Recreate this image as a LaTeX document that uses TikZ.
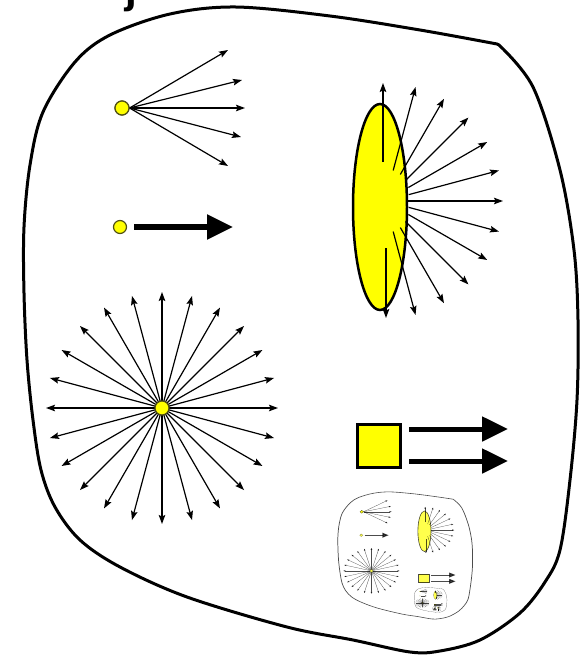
\documentclass[tikz,border=0pt]{standalone}
\usepackage{fontspec}
\usetikzlibrary{arrows.meta}
\definecolor{yel}{RGB}{255,255,0}
\definecolor{dotedge}{RGB}{80,80,20}
\newfontfamily\titlefont{DejaVu Sans}
\tikzset{
  blob/.style={line width=3pt, line join=round},
  thinarrow/.style={line width=1.2pt, -{Stealth[length=9pt,width=6.5pt,inset=1.5pt]}},
  fatarrow/.style={line width=5pt, -{Triangle[length=26pt,width=24pt]}},
  dotc/.style={circle, fill=yel, draw=dotedge, line width=1.2pt, inner sep=0pt, minimum size=14pt},
  yelshape/.style={fill=yel, draw=black},
  insetlook/.style={opacity=0.7},
}
\newcommand\myscene[1]{%
  % outer outline
  \draw[blob] plot[smooth, tension=0.55] coordinates {(499,45) (533,87) (560,170) (574,250) (578,320) (577,400) (570,480) (560,550) (545,582) (520,613) (480,640) (440,651) (410,652) (353,640) (287,627) (187,597) (120,567) (80,540) (55,507) (41,470) (33,420) (27,360) (24,293) (24,227) (30,165) (43,112) (75,62) (110,35) (170,14) (236,7) (330,16) (420,30) (497,44)} -- cycle;
  % fan from a point source
  \node[dotc] (fan) at (122,108) {};
  \foreach \tx/\ty in {228/50, 242/80, 245/108, 241/137, 228/166}
    \draw[thinarrow] (fan.east) -- (\tx,\ty);
  \node[dotc, minimum size=14pt] (fan2) at (122,108) {};
  % single source, one fat arrow
  \node[dotc, minimum size=13pt] (one) at (120,227) {};
  \coordinate (onetip) at (233,227);
  \draw[fatarrow, line width=5.5pt] ([xshift=7pt]one.east) -- (onetip);
  % ellipse with rays
  \draw[yelshape, line width=2.5pt] (380,207) ellipse [x radius=27, y radius=103];
  \coordinate (ec) at (385,201);
  \foreach \a in {-75,-60,...,75}{
    \pgfmathsetmacro\rr{22+10*abs(sin(\a))}
    \draw[thinarrow] ([shift={(\a:\rr)}]ec) -- ([shift={(\a:118)}]ec);
  }
  \coordinate (up0) at (383,162); \coordinate (up1) at (383,83);
  \coordinate (dn0) at (386,248); \coordinate (dn1) at (386,318);
  \draw[thinarrow] (up0) -- (up1);
  \draw[thinarrow] (dn0) -- (dn1);
  % star
  \coordinate (sc) at (162,408);
  \foreach \a in {0,15,...,345}
    \draw[thinarrow] ([shift={(\a:6)}]sc) -- ([shift={(\a:116)}]sc);
  \node[dotc] (star) at (sc) {};
  % square with two fat arrows
  \draw[yelshape, line width=3pt] (357,424) rectangle (400,467);
  \coordinate (a1s) at (409,429); \coordinate (a1e) at (508,429);
  \coordinate (a2s) at (409,461); \coordinate (a2e) at (508,461);
  \draw[fatarrow] (a1s) -- (a1e);
  \draw[fatarrow] (a2s) -- (a2e);
  % recursive inset
  \ifnum#1>0
    \begin{scope}[insetlook, transform canvas={shift={(332.1pt,-490.5pt)}, xscale=0.243, yscale=0.197}]
      \myscene{\numexpr#1-1\relax}
    \end{scope}
  \fi
}
\begin{document}
\begin{tikzpicture}[x=1pt, y=-1pt]
  \useasboundingbox (0,0) rectangle (579,656);
  \fill[white] (0,0) rectangle (579,656);
  \node[font=\titlefont\bfseries\fontsize{34}{34}\selectfont, anchor=base, inner sep=0pt] (title) at (131,4) {j};
  \myscene{3}
\end{tikzpicture}
\end{document}
